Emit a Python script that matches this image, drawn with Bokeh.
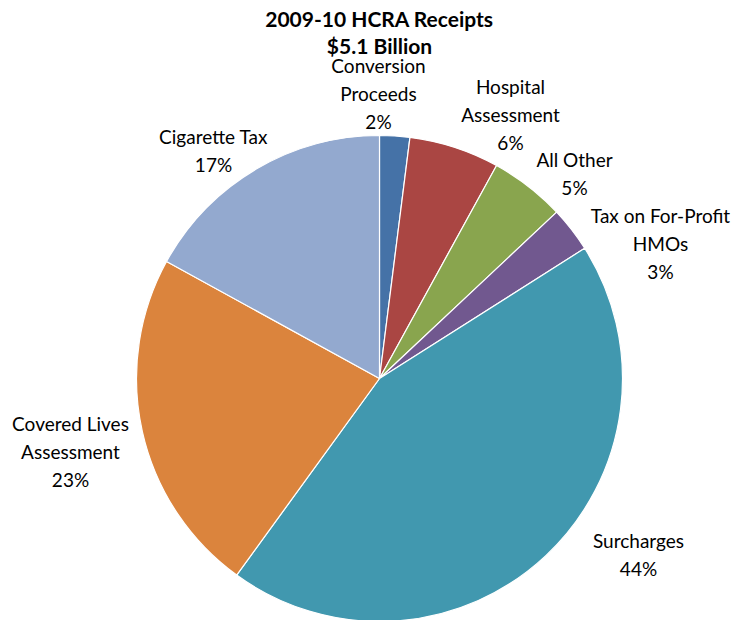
import math
from bokeh.plotting import figure
from bokeh.models import ColumnDataSource, Range1d
from bokeh.core.properties import value
from bokeh.embed import file_html
from bokeh.resources import INLINE

# ---- data ----
categories = ["Conversion\nProceeds", "Hospital\nAssessment", "All Other",
              "Tax on For-Profit\nHMOs", "Surcharges", "Covered Lives\nAssessment",
              "Cigarette Tax"]
shares = [2, 6, 5, 3, 44, 23, 17]
colors = ["#4572A7", "#AA4643", "#89A54E", "#71588F", "#4198AF", "#DB843D", "#93A9CF"]
title_lines = ["2009-10 HCRA Receipts", "$5.1 Billion"]

# ---- layout (pixel space, y measured from top) ----
W, H = 753, 620
CX, CY, R = 379, 378, 243
label_pos = [(378, 93), (510, 114), (574, 173), (660, 243), (638, 554), (70, 451), (213, 150)]
FONT = "Lato"

total = float(sum(shares))
starts, ends = [], []
cum = 0.0
for s in shares:
    a0 = math.pi / 2 - 2 * math.pi * cum / total
    cum += s
    a1 = math.pi / 2 - 2 * math.pi * cum / total
    starts.append(a0)
    ends.append(a1)

src = ColumnDataSource(dict(x=[CX] * len(shares), y=[H - CY] * len(shares),
                            start=starts, end=ends, color=colors))

p = figure(width=W, height=H, output_backend="svg", toolbar_location=None,
           x_range=Range1d(0, W), y_range=Range1d(0, H), min_border=0)
p.axis.visible = False
p.grid.visible = False
p.outline_line_color = None
p.background_fill_color = "white"
p.border_fill_color = "white"

p.wedge(x="x", y="y", radius=R, start_angle="start", end_angle="end",
        direction="clock", fill_color="color", line_color="white", line_width=1.2,
        source=src)

labels = [f"{c}\n{s}%" for c, s in zip(categories, shares)]
lsrc = ColumnDataSource(dict(x=[lp[0] for lp in label_pos],
                             y=[H - lp[1] for lp in label_pos], text=labels))
p.text(x="x", y="y", text="text", source=lsrc, text_font=value(FONT),
       text_font_size="19px", text_color="#000000", text_align="center",
       text_baseline="middle", text_line_height=1.22)

p.text(x=[379, 379], y=[H - 18, H - 45], text=title_lines, text_font=value(FONT),
       text_font_size="21px", text_font_style="bold", text_color="#000000",
       text_align="center", text_baseline="middle")

open("out.html", "w").write(file_html(p, INLINE))
